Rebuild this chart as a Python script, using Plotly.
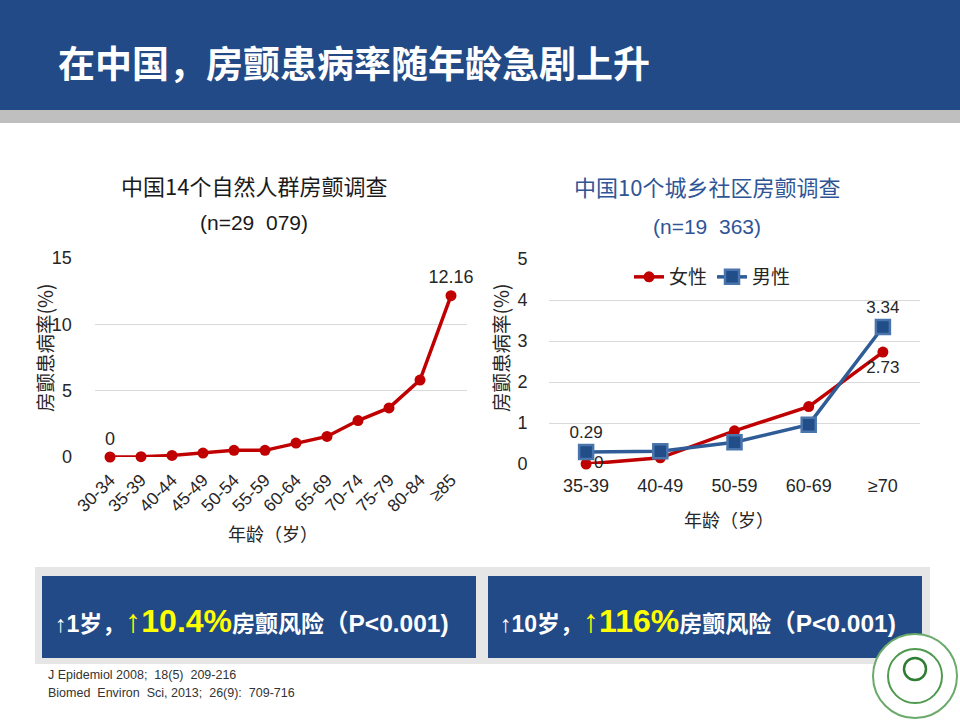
import plotly.graph_objects as go

# ---------------- data ----------------
left_categories = ["30-34", "35-39", "40-44", "45-49", "50-54", "55-59",
                   "60-64", "65-69", "70-74", "75-79", "80-84", "≥85"]
left_values = [0, 0.02, 0.12, 0.3, 0.5, 0.5, 1.05, 1.55, 2.75, 3.7, 5.8, 12.16]
left_labels = ["0", "", "", "", "", "", "", "", "", "", "", "12.16"]

right_categories = ["35-39", "40-49", "50-59", "60-69", "≥70"]
female_values = [0, 0.15, 0.81, 1.40, 2.73]
male_values = [0.29, 0.31, 0.53, 0.96, 3.34]
female_labels = ["0", "", "", "", "2.73"]
male_labels = ["0.29", "", "", "", "3.34"]

left_yticks = [0, 5, 10, 15]
right_yticks = [0, 1, 2, 3, 4, 5]

W, H = 960, 720
def px(x):
    return x / W
def py(y):
    return 1 - y / H

RED = "#C00000"
BLUE = "#2F5C96"
NAVY = "#224A86"
CN = "Noto Sans CJK SC"
FONT = "Liberation Sans, Noto Sans CJK SC"
TICK = "#262626"
NB = "\u00a0"

fig = go.Figure()

# left chart
fig.add_trace(go.Scatter(
    x=left_categories, y=left_values, mode="lines+markers+text",
    text=left_labels, textposition="top center",
    textfont=dict(size=18, color=TICK, family=FONT),
    line=dict(color=RED, width=3.5),
    marker=dict(symbol="circle", size=11, color=RED),
    cliponaxis=False, showlegend=False, xaxis="x", yaxis="y", hoverinfo="x+y"))

# right chart
fig.add_trace(go.Scatter(
    x=right_categories, y=female_values, mode="lines+markers+text",
    name="女性", text=female_labels,
    textposition=["middle right", "top center", "top center", "top center", "bottom center"],
    textfont=dict(size=17, color=TICK, family=FONT),
    line=dict(color=RED, width=3.5),
    marker=dict(symbol="circle", size=11, color=RED),
    cliponaxis=False, xaxis="x2", yaxis="y2"))
fig.add_trace(go.Scatter(
    x=right_categories, y=male_values, mode="lines+markers+text",
    name="男性", text=male_labels, textposition="top center",
    textfont=dict(size=17, color=TICK, family=FONT),
    line=dict(color=BLUE, width=3.5),
    marker=dict(symbol="square", size=14, color="#214E88",
                line=dict(color="#4A74AC", width=2.5)),
    cliponaxis=False, xaxis="x2", yaxis="y2"))

grid = "#D9D9D9"
transparent = "rgba(0,0,0,0)"
fig.update_layout(
    width=W, height=H, autosize=False,
    margin=dict(l=0, r=0, t=0, b=0, pad=0, autoexpand=False),
    paper_bgcolor="white", plot_bgcolor="white",
    font=dict(family=FONT, color=TICK),
    xaxis=dict(domain=[px(94.5), px(466.5)], anchor="y", type="category",
               range=[-0.5, len(left_categories) - 0.5],
               tickangle=-45, tickfont=dict(size=17.5, color=TICK),
               showgrid=False, zeroline=False, showline=False, automargin=False,
               ticks="outside", ticklen=5, tickcolor=transparent),
    yaxis=dict(domain=[py(457), py(258)], anchor="x", range=[0, 15],
               tickvals=left_yticks, tickfont=dict(size=18, color=TICK),
               showgrid=True, gridcolor=grid, gridwidth=1, zeroline=False, automargin=False,
               ticks="outside", ticklen=18, tickcolor=transparent),
    xaxis2=dict(domain=[px(549), px(920)], anchor="y2", type="category",
                range=[-0.5, len(right_categories) - 0.5],
                tickfont=dict(size=18, color=TICK),
                showgrid=False, zeroline=False, showline=False, automargin=False,
                ticks="outside", ticklen=5, tickcolor=transparent),
    yaxis2=dict(domain=[py(464), py(259)], anchor="x2", range=[0, 5],
                tickvals=right_yticks, tickfont=dict(size=18, color=TICK),
                showgrid=True, gridcolor=grid, gridwidth=1, zeroline=False, automargin=False,
                ticks="outside", ticklen=17, tickcolor=transparent),
    legend=dict(orientation="h", x=px(629), y=py(277), xanchor="left", yanchor="middle",
                bgcolor=transparent, font=dict(size=19, color=TICK, family=CN),
                itemwidth=30, tracegroupgap=0),
)

shapes = []
# header
shapes.append(dict(type="rect", xref="paper", yref="paper", x0=0, x1=1, y0=py(110), y1=1,
                   fillcolor=NAVY, line=dict(width=0), layer="below"))
shapes.append(dict(type="rect", xref="paper", yref="paper", x0=0, x1=1, y0=py(123), y1=py(110),
                   fillcolor="#BFBFBF", line=dict(width=0), layer="below"))
# bottom boxes
shapes.append(dict(type="rect", xref="paper", yref="paper", x0=px(35), x1=px(930), y0=py(664), y1=py(567),
                   fillcolor="#E6E6E6", line=dict(width=0), layer="below"))
shapes.append(dict(type="rect", xref="paper", yref="paper", x0=px(42), x1=px(476), y0=py(658), y1=py(576),
                   fillcolor=NAVY, line=dict(width=0), layer="below"))
shapes.append(dict(type="rect", xref="paper", yref="paper", x0=px(488), x1=px(922), y0=py(658), y1=py(576),
                   fillcolor=NAVY, line=dict(width=0), layer="below"))
# logo (simple emblem)
shapes.append(dict(type="circle", xref="paper", yref="paper", x0=px(873), x1=px(957), y0=py(718), y1=py(634),
                   fillcolor="white", line=dict(color="#6AAA6A", width=2)))
shapes.append(dict(type="circle", xref="paper", yref="paper", x0=px(888), x1=px(942), y0=py(703), y1=py(649),
                   fillcolor=transparent, line=dict(color="#4E9A4E", width=2)))
shapes.append(dict(type="circle", xref="paper", yref="paper", x0=px(904), x1=px(926), y0=py(680), y1=py(658),
                   fillcolor=transparent, line=dict(color="#2E7D32", width=2.5)))
fig.update_layout(shapes=shapes)

ann = []
def add(text, x, y, size, color=TICK, family=FONT, xanchor="center", yanchor="middle", angle=0, bold=False):
    if bold:
        text = "<b>" + text + "</b>"
    ann.append(dict(text=text, x=px(x), y=py(y), xref="paper", yref="paper", showarrow=False,
                    font=dict(size=size, color=color, family=family),
                    xanchor=xanchor, yanchor=yanchor, textangle=angle))

add("在中国，房颤患病率随年龄急剧上升", 56, 62, 37, "white", CN, xanchor="left", bold=True)
add("中国14个自然人群房颤调查", 254, 185, 22, "#1A1A1A", CN)
add("(n=29" + NB + NB + "079)", 254, 222, 21, "#1A1A1A", FONT)
add("中国10个城乡社区房颤调查", 707, 186, 22, "#2F5597", CN)
add("(n=19" + NB + NB + "363)", 707, 226, 21, "#2F5597", FONT)
add("房颤患病率(%)", 44, 348, 19.5, TICK, CN, angle=-90)
add("房颤患病率(%)", 500, 348, 19.5, TICK, CN, angle=-90)
add("年龄（岁）", 273, 533, 18, TICK, CN)
add("年龄（岁）", 729, 519, 18, TICK, CN)

box1 = ("<b><span style='font-size:23px'>↑1岁，</span>"
        "<span style='color:#FFFF00;font-size:32px'>↑10.4%</span>"
        "<span style='font-size:23px'>房颤风险</span>"
        "<span style='font-size:24.5px'>（P&lt;0.001)</span></b>")
box2 = ("<b><span style='font-size:23px'>↑10岁，</span>"
        "<span style='color:#FFFF00;font-size:32px'>↑116%</span>"
        "<span style='font-size:23px'>房颤风险</span>"
        "<span style='font-size:24.5px'>（P&lt;0.001)</span></b>")
add(box1, 53, 621, 23, "white", FONT, xanchor="left")
add(box2, 498, 621, 23, "white", FONT, xanchor="left")

add("J Epidemiol 2008;  18(5)  209-216", 46, 675, 12.5, "#333333", FONT, xanchor="left")
add("Biomed  Environ  Sci, 2013;  26(9):  709-716", 46, 693, 12.5, "#333333", FONT, xanchor="left")

fig.update_layout(annotations=ann)

fig.write_html("out.html", config={"displayModeBar": False},
               post_script="document.body.style.margin='0';document.body.style.padding='0';"
                           "document.body.style.overflow='hidden';")
